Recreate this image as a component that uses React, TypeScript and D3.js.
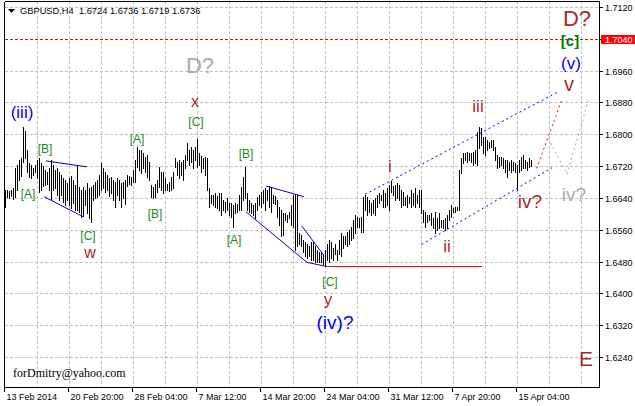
import React from 'react';
import * as d3 from 'd3';

const W = 635;
const H = 406;

// H4 bars (high / low), one entry per 4-hour bar starting 13 Feb 2014
const highs = [
  1.6660,1.6660,1.6658,1.6660,1.6665,1.6715,1.6723,1.6735,1.6740,1.6818,
  1.6808,1.6760,1.6728,1.6723,1.6715,1.6723,1.6735,1.6740,1.6728,1.6720,
  1.6710,1.6705,1.6715,1.6735,1.6723,1.6710,1.6715,1.6705,1.6698,1.6690,
  1.6685,1.6678,1.6690,1.6695,1.6685,1.6673,1.6723,1.6668,1.6660,1.6668,
  1.6660,1.6678,1.6665,1.6668,1.6673,1.6680,1.6685,1.6698,1.6728,1.6715,
  1.6705,1.6698,1.6690,1.6693,1.6685,1.6680,1.6690,1.6685,1.6678,1.6680,
  1.6685,1.6698,1.6695,1.6693,1.6710,1.6735,1.6768,1.6760,1.6760,1.6753,
  1.6743,1.6748,1.6730,1.6673,1.6668,1.6675,1.6685,1.6718,1.6705,1.6705,
  1.6690,1.6675,1.6680,1.6693,1.6705,1.6740,1.6730,1.6735,1.6730,1.6735,
  1.6748,1.6778,1.6760,1.6768,1.6760,1.6768,1.6788,1.6753,1.6745,1.6740,
  1.6743,1.6740,1.6665,1.6648,1.6648,1.6653,1.6645,1.6653,1.6653,1.6635,
  1.6630,1.6640,1.6628,1.6628,1.6623,1.6628,1.6625,1.6648,1.6668,1.6693,
  1.6718,1.6653,1.6635,1.6628,1.6623,1.6628,1.6643,1.6648,1.6655,1.6660,
  1.6665,1.6660,1.6670,1.6668,1.6648,1.6645,1.6635,1.6618,1.6610,1.6603,
  1.6603,1.6598,1.6605,1.6623,1.6648,1.6650,1.6648,1.6553,1.6548,1.6535,
  1.6528,1.6523,1.6518,1.6528,1.6528,1.6518,1.6510,1.6505,1.6505,1.6498,
  1.6510,1.6523,1.6535,1.6528,1.6515,1.6523,1.6510,1.6535,1.6553,1.6543,
  1.6543,1.6555,1.6560,1.6568,1.6585,1.6598,1.6593,1.6590,1.6593,1.6643,
  1.6648,1.6643,1.6635,1.6628,1.6635,1.6640,1.6648,1.6653,1.6648,1.6660,
  1.6653,1.6665,1.6673,1.6683,1.6670,1.6673,1.6678,1.6673,1.6660,1.6655,
  1.6643,1.6648,1.6643,1.6660,1.6653,1.6665,1.6648,1.6660,1.6660,1.6610,
  1.6605,1.6598,1.6598,1.6603,1.6590,1.6605,1.6590,1.6603,1.6585,1.6585,
  1.6590,1.6598,1.6610,1.6623,1.6615,1.6618,1.6618,1.6710,1.6740,1.6753,
  1.6753,1.6755,1.6753,1.6753,1.6755,1.6760,1.6805,1.6818,1.6815,1.6793,
  1.6793,1.6785,1.6780,1.6785,1.6785,1.6768,1.6748,1.6743,1.6743,1.6740,
  1.6735,1.6735,1.6730,1.6735,1.6730,1.6728,1.6723,1.6735,1.6743,1.6748,
  1.6735,1.6730,1.6740,1.6736,
];

const lows = [
  1.6618,1.6643,1.6640,1.6645,1.6638,1.6643,1.6660,1.6685,1.6695,1.6730,
  1.6740,1.6705,1.6693,1.6690,1.6698,1.6705,1.6690,1.6655,1.6660,1.6670,
  1.6673,1.6675,1.6660,1.6635,1.6660,1.6665,1.6648,1.6635,1.6648,1.6630,
  1.6623,1.6635,1.6623,1.6615,1.6628,1.6610,1.6610,1.6605,1.6593,1.6595,
  1.6623,1.6603,1.6590,1.6580,1.6635,1.6640,1.6643,1.6648,1.6660,1.6665,
  1.6655,1.6660,1.6645,1.6653,1.6635,1.6618,1.6648,1.6635,1.6618,1.6640,
  1.6625,1.6670,1.6675,1.6673,1.6680,1.6680,1.6718,1.6710,1.6703,1.6715,
  1.6705,1.6693,1.6685,1.6643,1.6640,1.6643,1.6655,1.6668,1.6660,1.6653,
  1.6660,1.6660,1.6658,1.6660,1.6665,1.6718,1.6698,1.6690,1.6698,1.6685,
  1.6715,1.6735,1.6723,1.6730,1.6715,1.6735,1.6718,1.6723,1.6705,1.6715,
  1.6698,1.6660,1.6618,1.6628,1.6623,1.6618,1.6615,1.6610,1.6598,1.6610,
  1.6605,1.6610,1.6598,1.6593,1.6568,1.6603,1.6605,1.6610,1.6610,1.6635,
  1.6640,1.6610,1.6605,1.6603,1.6598,1.6590,1.6610,1.6623,1.6618,1.6628,
  1.6610,1.6635,1.6618,1.6605,1.6628,1.6625,1.6593,1.6573,1.6543,1.6548,
  1.6585,1.6580,1.6590,1.6573,1.6568,1.6510,1.6518,1.6523,1.6518,1.6503,
  1.6493,1.6490,1.6493,1.6485,1.6485,1.6480,1.6480,1.6478,1.6480,1.6473,
  1.6468,1.6485,1.6480,1.6490,1.6485,1.6498,1.6485,1.6498,1.6493,1.6515,
  1.6523,1.6518,1.6523,1.6535,1.6540,1.6553,1.6568,1.6568,1.6555,1.6555,
  1.6610,1.6598,1.6605,1.6598,1.6603,1.6598,1.6618,1.6628,1.6635,1.6618,
  1.6618,1.6623,1.6610,1.6655,1.6648,1.6635,1.6640,1.6635,1.6618,1.6623,
  1.6623,1.6618,1.6628,1.6618,1.6623,1.6618,1.6628,1.6618,1.6603,1.6580,
  1.6568,1.6580,1.6585,1.6573,1.6565,1.6553,1.6560,1.6565,1.6568,1.6565,
  1.6560,1.6565,1.6585,1.6593,1.6605,1.6605,1.6610,1.6610,1.6703,1.6728,
  1.6735,1.6730,1.6735,1.6730,1.6723,1.6728,1.6723,1.6765,1.6773,1.6753,
  1.6748,1.6760,1.6765,1.6768,1.6760,1.6735,1.6715,1.6718,1.6723,1.6715,
  1.6705,1.6693,1.6710,1.6705,1.6710,1.6705,1.6660,1.6705,1.6710,1.6715,
  1.6715,1.6710,1.6718,1.6719,
];

const priceTicks = [1.7120, 1.7040, 1.6960, 1.6880, 1.6800, 1.6720, 1.6640, 1.6560, 1.6480, 1.6400, 1.6320, 1.6240];
const timeLabels = ['13 Feb 2014', '20 Feb 20:00', '28 Feb 04:00', '7 Mar 12:00', '14 Mar 20:00', '24 Mar 04:00', '31 Mar 12:00', '7 Apr 20:00', '15 Apr 04:00'];
const timeLabelBars = [0, 32, 64, 96, 128, 160, 192, 224, 256];
const gridBars = [16, 32, 48, 64, 80, 96, 112, 128, 144, 160, 176, 192, 208, 224, 240, 256, 272, 288];
const markedLevel = 1.7040;
const titleText = 'GBPUSD,H4  1.6724 1.6736 1.6719 1.6736';

// annotation lines: [bar index, price]
type Pt = [number, number];
const triangle1Upper: Pt[] = [[20.5, 1.6733], [41, 1.6718]];
const triangle1Lower: Pt[] = [[19.5, 1.6643], [39, 1.6593]];
const triangle2Upper: Pt[] = [[130.5, 1.6670], [149.5, 1.6643]];
const triangle2Lower: Pt[] = [[120.5, 1.6605], [151, 1.6478], [160.5, 1.6468]];
const triangle2Diag: Pt[] = [[148.3, 1.6570], [159.5, 1.6495]];
const supportLine: Pt[] = [[160.5, 1.6468], [238.5, 1.6468]];
const channelUpper: Pt[] = [[180, 1.6649], [277, 1.6908]];
const channelLower: Pt[] = [[208.3, 1.6523], [273.5, 1.6716]];
const projection: Pt[] = [[265.8, 1.6714], [278.3, 1.6885]];
const altPath: Pt[] = [[271.7, 1.6789], [281, 1.6700], [291.7, 1.6885]];

type Lbl = { t: string; i: number; p: number; c: string; s: number; w?: number };
const BROWN = '#a52a2a';
const GREEN = '#1c8a1c';
const BLUE = '#0000ff';
const GRAY = '#a9a9a9';
const labels: Lbl[] = [
  { t: '(iii)', i: 8.5, p: 1.6840, c: BLUE, s: 17 },
  { t: '[A]', i: 11.5, p: 1.6640, c: GREEN, s: 12 },
  { t: '[B]', i: 20, p: 1.6753, c: GREEN, s: 12 },
  { t: '[C]', i: 41.5, p: 1.6535, c: GREEN, s: 12 },
  { t: 'w', i: 42.5, p: 1.6488, c: BROWN, s: 16 },
  { t: '[A]', i: 66, p: 1.6778, c: GREEN, s: 12 },
  { t: '[B]', i: 75, p: 1.6590, c: GREEN, s: 12 },
  { t: '[C]', i: 95.5, p: 1.6820, c: GREEN, s: 12 },
  { t: 'x', i: 95, p: 1.6868, c: BROWN, s: 16 },
  { t: 'D?', i: 97.5, p: 1.6955, c: GRAY, s: 22 },
  { t: '[B]', i: 120.5, p: 1.6740, c: GREEN, s: 12 },
  { t: '[A]', i: 114.5, p: 1.6523, c: GREEN, s: 12 },
  { t: '[C]', i: 162.5, p: 1.6418, c: GREEN, s: 12 },
  { t: 'y', i: 161.5, p: 1.6370, c: BROWN, s: 17 },
  { t: '(iv)?', i: 165, p: 1.6310, c: BLUE, s: 19 },
  { t: 'i', i: 192.5, p: 1.6705, c: BROWN, s: 17 },
  { t: 'ii', i: 221, p: 1.6503, c: BROWN, s: 17 },
  { t: 'iii', i: 236.5, p: 1.6855, c: BROWN, s: 17 },
  { t: 'iv?', i: 262.5, p: 1.6615, c: BROWN, s: 19 },
  { t: 'iv?', i: 284.5, p: 1.6633, c: GRAY, s: 19 },
  { t: 'v', i: 282, p: 1.6910, c: BROWN, s: 20 },
  { t: '(v)', i: 283, p: 1.6965, c: BLUE, s: 17 },
  { t: '[c]', i: 282.5, p: 1.7021, c: '#007a00', s: 15, w: 700 },
  { t: 'D?', i: 286, p: 1.7071, c: BROWN, s: 22 },
  { t: 'E', i: 290.5, p: 1.6218, c: BROWN, s: 21 },
];

const LEFT = 5;
const RIGHT = 599;
const TOP = 1;
const BOTTOM = 387;

export default function App() {
  const x = d3.scaleLinear().domain([0, 297]).range([LEFT, RIGHT]);
  const y = d3.scaleLinear().domain([1.6240, 1.7120]).range([357, 7]);
  const px = (i: number) => Math.round(x(i)) + 0.5;
  const py = (p: number) => Math.round(y(p)) + 0.5;
  const line = d3.line<Pt>().x((d) => x(d[0])).y((d) => y(d[1]));
  const font = '"Liberation Sans", Arial, sans-serif';

  return (
    <svg width={W} height={H} style={{ position: 'absolute', left: 0, top: 0, background: '#fff' }} fontFamily={font}>
      <rect x={0} y={0} width={W} height={H} fill="#fff" />
      {/* grid */}
      <g stroke="#c0c0c0" strokeDasharray="3,2" shapeRendering="crispEdges">
        {priceTicks.map((p) => (
          <line key={'h' + p} x1={LEFT} x2={RIGHT} y1={py(p)} y2={py(p)} />
        ))}
        {gridBars.map((b) => (
          <line key={'v' + b} x1={px(b)} x2={px(b)} y1={TOP} y2={BOTTOM} />
        ))}
      </g>
      {/* marked level */}
      <line x1={LEFT} x2={RIGHT} y1={py(markedLevel)} y2={py(markedLevel)} stroke="#ff0000" strokeDasharray="3,2" shapeRendering="crispEdges" />
      {/* bars */}
      <g stroke="#000" shapeRendering="crispEdges">
        {highs.map((h, i) => {
          const y1 = Math.round(y(h));
          let y2 = Math.round(y(lows[i]));
          if (y2 <= y1) y2 = y1 + 1;
          return <line key={i} x1={px(i)} x2={px(i)} y1={y1} y2={y2 + 1} />;
        })}
      </g>
      {/* annotation lines */}
      <g fill="none">
        <path d={line(triangle1Upper) || ''} stroke="#0000cc" />
        <path d={line(triangle1Lower) || ''} stroke="#0000cc" />
        <path d={line(triangle2Upper) || ''} stroke="#0000cc" />
        <path d={line(triangle2Lower) || ''} stroke="#0000cc" />
        <path d={line(triangle2Diag) || ''} stroke="#0000cc" />
        <path d={line(supportLine) || ''} stroke="#ff0000" shapeRendering="crispEdges" />
        <path d={line(channelUpper) || ''} stroke="#0000ff" strokeDasharray="2,3" />
        <path d={line(channelLower) || ''} stroke="#0000ff" strokeDasharray="2,3" />
        <path d={line(projection) || ''} stroke="#ff0000" strokeDasharray="2,3" />
        <path d={line(altPath) || ''} stroke="#a9a9a9" strokeDasharray="2,3" />
      </g>
      {/* wave labels */}
      {labels.map((l, k) => (
        <text key={'l' + k} x={x(l.i)} y={y(l.p)} textAnchor="middle" fill={l.c} fontSize={l.s} fontWeight={l.w || 400}>
          {l.t}
        </text>
      ))}
      {/* frame */}
      <g stroke="#000" fill="none" shapeRendering="crispEdges">
        <line x1={4.5} x2={4.5} y1={TOP + 0.5} y2={BOTTOM + 0.5} />
        <line x1={4.5} x2={RIGHT + 0.5} y1={TOP + 0.5} y2={TOP + 0.5} />
        <line x1={RIGHT + 0.5} x2={RIGHT + 0.5} y1={TOP + 0.5} y2={BOTTOM + 0.5} />
        <line x1={4.5} x2={RIGHT + 0.5} y1={BOTTOM + 0.5} y2={BOTTOM + 0.5} />
      </g>
      {/* right axis */}
      <g fontSize={9} fill="#000">
        {priceTicks.map((p) => (
          <g key={'t' + p}>
            <line x1={RIGHT + 0.5} x2={RIGHT + 4} y1={py(p)} y2={py(p)} stroke="#000" shapeRendering="crispEdges" />
            <text x={605} y={py(p) + 3}>{p.toFixed(4)}</text>
          </g>
        ))}
        <rect x={601} y={py(markedLevel) - 4.5} width={34} height={9} fill="#ff0000" />
        <text x={605} y={py(markedLevel) + 3} fill="#fff">{markedLevel.toFixed(4)}</text>
      </g>
      {/* bottom axis */}
      <g fontSize={9} fill="#000">
        {timeLabelBars.map((b, k) => (
          <g key={'b' + b}>
            <line x1={px(b) - 1} x2={px(b) - 1} y1={BOTTOM} y2={BOTTOM + 5} stroke="#000" shapeRendering="crispEdges" />
            <text x={px(b) + 1} y={400}>{timeLabels[k]}</text>
          </g>
        ))}
      </g>
      {/* title */}
      <path d="M8,9 L15,9 L11.5,13 Z" fill="#000" />
      <text x={20} y={14} fontSize={9.3} fill="#000" style={{ whiteSpace: 'pre' }}>{titleText}</text>
      <text x={13} y={377} fontSize={12} fill="#000" fontFamily={'"Liberation Serif", "Times New Roman", serif'}>forDmitry@yahoo.com</text>
    </svg>
  );
}
